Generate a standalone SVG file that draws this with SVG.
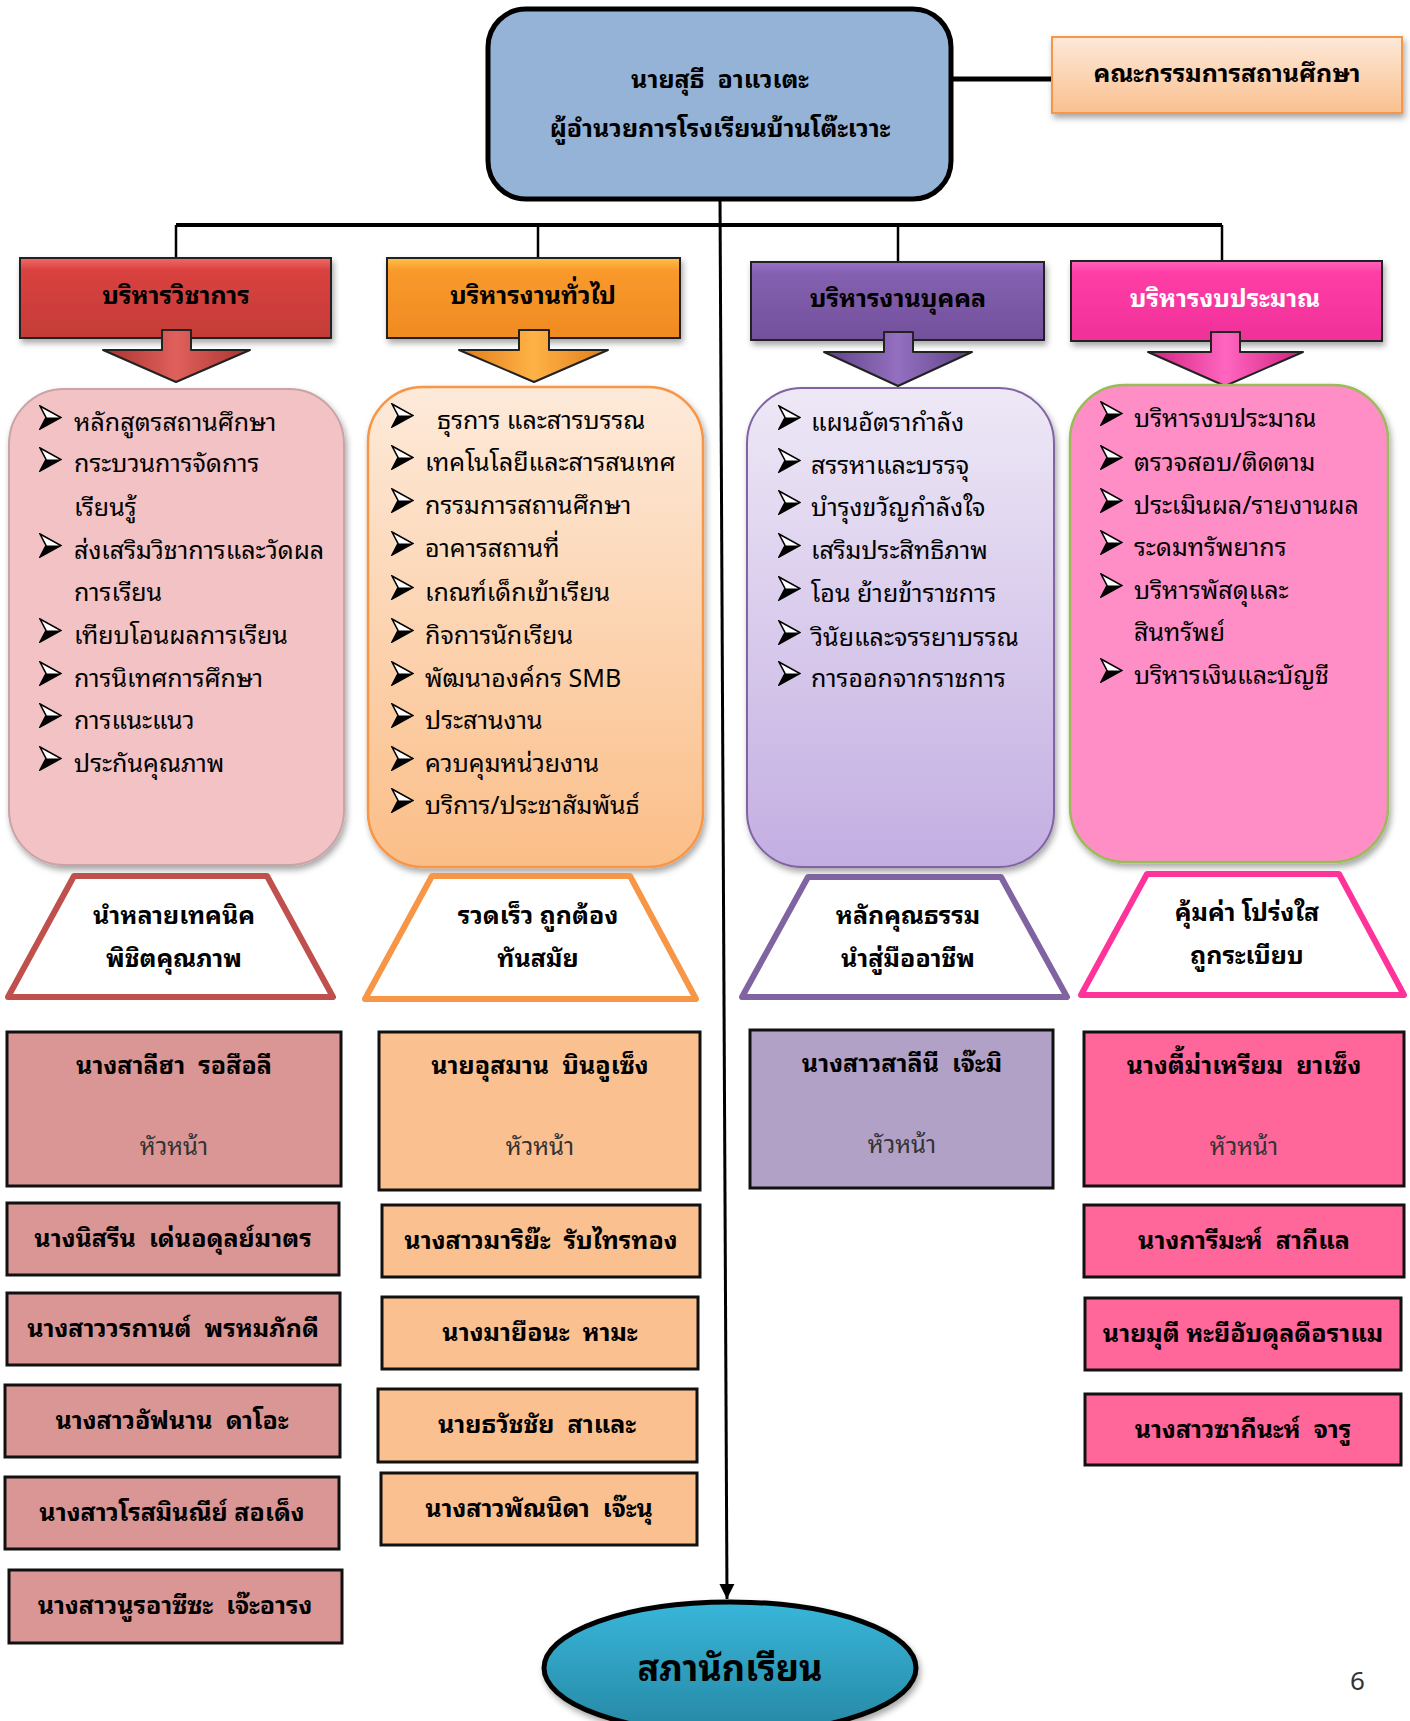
<svg xmlns="http://www.w3.org/2000/svg" width="1410" height="1721" viewBox="0 0 1410 1721">
<style>
.t{font-family:"Noto Sans Thai Looped","Sarabun","TH Sarabun New","Noto Sans Thai","Loma","Garuda","Noto Sans","DejaVu Sans",sans-serif;fill:#000;white-space:pre}
.c{text-anchor:middle}
.item{font-size:25px}
.title{font-size:25px;font-weight:bold}
.name{font-size:25px;font-weight:bold}
.head{font-size:24px;fill:#333}
.hdr{font-size:25px;font-weight:bold}
.trap{fill:#fff;stroke-width:6;stroke-linejoin:round}
.mbox{stroke:#111;stroke-width:3}
.line{stroke:#000;fill:none}
</style>
<defs>
<filter id="sh" x="-10%" y="-10%" width="125%" height="130%">
<feDropShadow dx="2" dy="4" stdDeviation="3" flood-color="#000" flood-opacity="0.35"/>
</filter>
<symbol id="bul" viewBox="0 0 23 25">
<path d="M1,1 L22,12.5 L1,24 L7,12.5 Z" fill="#fff" stroke="#000" stroke-width="1.6" stroke-linejoin="miter"/>
<path d="M7,12.5 L22,12.5 L1,24 Z" fill="#000"/>
</symbol>
<linearGradient id="gCom" x1="0" y1="0" x2="0" y2="1"><stop offset="0" stop-color="#FDE9D9"/><stop offset="1" stop-color="#FAC08F"/></linearGradient>
<linearGradient id="gRed" x1="0" y1="0" x2="0" y2="1"><stop offset="0" stop-color="#F06A67"/><stop offset="0.15" stop-color="#D9423F"/><stop offset="1" stop-color="#C43B38"/></linearGradient>
<linearGradient id="gOra" x1="0" y1="0" x2="0" y2="1"><stop offset="0" stop-color="#FFC04A"/><stop offset="0.15" stop-color="#F99A2C"/><stop offset="1" stop-color="#F08A22"/></linearGradient>
<linearGradient id="gPur" x1="0" y1="0" x2="0" y2="1"><stop offset="0" stop-color="#9A72C8"/><stop offset="0.15" stop-color="#8461B0"/><stop offset="1" stop-color="#72509C"/></linearGradient>
<linearGradient id="gPnk" x1="0" y1="0" x2="0" y2="1"><stop offset="0" stop-color="#FF66BB"/><stop offset="0.15" stop-color="#FF3DA5"/><stop offset="1" stop-color="#F0309A"/></linearGradient>
<linearGradient id="gAR" x1="0" y1="0" x2="1" y2="0"><stop offset="0" stop-color="#A83230"/><stop offset="0.5" stop-color="#E0605C"/><stop offset="1" stop-color="#A83230"/></linearGradient>
<linearGradient id="gAO" x1="0" y1="0" x2="1" y2="0"><stop offset="0" stop-color="#E07A18"/><stop offset="0.5" stop-color="#FFB347"/><stop offset="1" stop-color="#E07A18"/></linearGradient>
<linearGradient id="gAP" x1="0" y1="0" x2="1" y2="0"><stop offset="0" stop-color="#5E4288"/><stop offset="0.5" stop-color="#9470C0"/><stop offset="1" stop-color="#5E4288"/></linearGradient>
<linearGradient id="gAK" x1="0" y1="0" x2="1" y2="0"><stop offset="0" stop-color="#D0207F"/><stop offset="0.5" stop-color="#FF66C0"/><stop offset="1" stop-color="#D0207F"/></linearGradient>
<linearGradient id="gCO" x1="0" y1="0" x2="0" y2="1"><stop offset="0" stop-color="#FDEADA"/><stop offset="1" stop-color="#FBBE88"/></linearGradient>
<linearGradient id="gCP" x1="0" y1="0" x2="0" y2="1"><stop offset="0" stop-color="#EEE8F6"/><stop offset="1" stop-color="#C3AEE2"/></linearGradient>
<linearGradient id="gEl" x1="0" y1="0" x2="0" y2="1"><stop offset="0" stop-color="#38B6DA"/><stop offset="1" stop-color="#2687A3"/></linearGradient>
<marker id="arr" viewBox="0 0 10 10" refX="10" refY="5" markerWidth="5" markerHeight="6" orient="auto" markerUnits="strokeWidth">
<path d="M0,0 L10,5 L0,10 Z" fill="#000"/>
</marker>
</defs>

<g id="connectors">
<line class="line" x1="951" y1="79" x2="1052" y2="79" stroke-width="5"/>
<line class="line" x1="176" y1="225" x2="1222" y2="225" stroke-width="4"/>
<line class="line" x1="176" y1="225" x2="176" y2="268" stroke-width="2.5"/>
<line class="line" x1="538" y1="225" x2="538" y2="270" stroke-width="2.5"/>
<line class="line" x1="898" y1="225" x2="898" y2="270" stroke-width="2.5"/>
<line class="line" x1="1222" y1="225" x2="1222" y2="270" stroke-width="2.5"/>
</g>

<g id="director">
<rect x="488" y="9" width="463" height="190" rx="38" fill="#95B3D7" stroke="#000" stroke-width="5"/>
<text class="t title c" x="720" y="88">นายสุธี  อาแวเตะ</text>
<text class="t title c" x="720" y="137">ผู้อำนวยการโรงเรียนบ้านโต๊ะเวาะ</text>
</g>

<g id="committee">
<rect x="1052" y="37" width="350" height="76" fill="url(#gCom)" stroke="#F79646" stroke-width="2" filter="url(#sh)"/>
<text class="t title c" x="1227" y="82">คณะกรรมการสถานศึกษา</text>
</g>

<g id="dept-academic">
<rect x="20" y="258" width="311" height="80" fill="url(#gRed)" stroke="#222" stroke-width="2" filter="url(#sh)"/>
<text class="t hdr c" x="176" y="304">บริหารวิชาการ</text>
<path d="M162,330 L191,330 L191,350 L250,350 L176,382 L103,350 L162,350 Z" fill="url(#gAR)" stroke="#222" stroke-width="2" stroke-linejoin="round"/>
</g>
<g id="dept-general">
<rect x="387" y="258" width="293" height="80" fill="url(#gOra)" stroke="#222" stroke-width="2" filter="url(#sh)"/>
<text class="t hdr c" x="533" y="304">บริหารงานทั่วไป</text>
<path d="M519,330 L549,330 L549,350 L608,350 L534,382 L459,350 L519,350 Z" fill="url(#gAO)" stroke="#222" stroke-width="2" stroke-linejoin="round"/>
</g>
<g id="dept-personnel">
<rect x="751" y="262" width="293" height="78" fill="url(#gPur)" stroke="#222" stroke-width="2" filter="url(#sh)"/>
<text class="t hdr c" x="898" y="307">บริหารงานบุคคล</text>
<path d="M884,332 L913,332 L913,352 L972,352 L898,386 L824,352 L884,352 Z" fill="url(#gAP)" stroke="#222" stroke-width="2" stroke-linejoin="round"/>
</g>
<g id="dept-budget">
<rect x="1071" y="261" width="311" height="80" fill="url(#gPnk)" stroke="#222" stroke-width="2" filter="url(#sh)"/>
<text class="t hdr c" x="1225" y="307" style="fill:#fff">บริหารงบประมาณ</text>
<path d="M1211,332 L1240,332 L1240,352 L1303,352 L1225,386 L1148,352 L1211,352 Z" fill="url(#gAK)" stroke="#222" stroke-width="2" stroke-linejoin="round"/>
</g>

<g id="tasks-academic">
<rect x="9" y="389" width="335" height="476" rx="55" fill="#F2C2C4" stroke="#C9A3A5" stroke-width="2" filter="url(#sh)"/>
<use href="#bul" x="39" y="405" width="23" height="25"/>
<text class="t item" x="74" y="431">หลักสูตรสถานศึกษา</text>
<use href="#bul" x="39" y="447" width="23" height="25"/>
<text class="t item" x="74" y="472">กระบวนการจัดการ</text>
<text class="t item" x="74" y="516">เรียนรู้</text>
<use href="#bul" x="39" y="533" width="23" height="25"/>
<text class="t item" x="74" y="559">ส่งเสริมวิชาการและวัดผล</text>
<text class="t item" x="74" y="601">การเรียน</text>
<use href="#bul" x="39" y="618" width="23" height="25"/>
<text class="t item" x="74" y="644">เทียบโอนผลการเรียน</text>
<use href="#bul" x="39" y="661" width="23" height="25"/>
<text class="t item" x="74" y="687">การนิเทศการศึกษา</text>
<use href="#bul" x="39" y="703" width="23" height="25"/>
<text class="t item" x="74" y="729">การแนะแนว</text>
<use href="#bul" x="39" y="746" width="23" height="25"/>
<text class="t item" x="74" y="772">ประกันคุณภาพ</text>
</g>

<g id="tasks-general">
<rect x="368" y="387" width="335" height="480" rx="55" fill="url(#gCO)" stroke="#F79646" stroke-width="2.5" filter="url(#sh)"/>
<use href="#bul" x="391" y="403" width="23" height="25"/>
<text class="t item" x="437" y="429">ธุรการ และสารบรรณ</text>
<use href="#bul" x="391" y="445" width="23" height="25"/>
<text class="t item" x="425" y="471">เทคโนโลยีและสารสนเทศ</text>
<use href="#bul" x="391" y="488" width="23" height="25"/>
<text class="t item" x="425" y="514">กรรมการสถานศึกษา</text>
<use href="#bul" x="391" y="531" width="23" height="25"/>
<text class="t item" x="425" y="557">อาคารสถานที่</text>
<use href="#bul" x="391" y="575" width="23" height="25"/>
<text class="t item" x="425" y="601">เกณฑ์เด็กเข้าเรียน</text>
<use href="#bul" x="391" y="618" width="23" height="25"/>
<text class="t item" x="425" y="644">กิจการนักเรียน</text>
<use href="#bul" x="391" y="661" width="23" height="25"/>
<text class="t item" x="425" y="687">พัฒนาองค์กร SMB</text>
<use href="#bul" x="391" y="703" width="23" height="25"/>
<text class="t item" x="425" y="729">ประสานงาน</text>
<use href="#bul" x="391" y="746" width="23" height="25"/>
<text class="t item" x="425" y="772">ควบคุมหน่วยงาน</text>
<use href="#bul" x="391" y="788" width="23" height="25"/>
<text class="t item" x="425" y="814">บริการ/ประชาสัมพันธ์</text>
</g>

<g id="tasks-personnel">
<rect x="747" y="388" width="307" height="479" rx="55" fill="url(#gCP)" stroke="#8064A2" stroke-width="2" filter="url(#sh)"/>
<use href="#bul" x="778" y="405" width="23" height="25"/>
<text class="t item" x="811" y="431">แผนอัตรากำลัง</text>
<use href="#bul" x="778" y="448" width="23" height="25"/>
<text class="t item" x="811" y="474">สรรหาและบรรจุ</text>
<use href="#bul" x="778" y="490" width="23" height="25"/>
<text class="t item" x="811" y="516">บำรุงขวัญกำลังใจ</text>
<use href="#bul" x="778" y="533" width="23" height="25"/>
<text class="t item" x="811" y="559">เสริมประสิทธิภาพ</text>
<use href="#bul" x="778" y="576" width="23" height="25"/>
<text class="t item" x="811" y="602">โอน ย้ายข้าราชการ</text>
<use href="#bul" x="778" y="620" width="23" height="25"/>
<text class="t item" x="811" y="646">วินัยและจรรยาบรรณ</text>
<use href="#bul" x="778" y="661" width="23" height="25"/>
<text class="t item" x="811" y="687">การออกจากราชการ</text>
</g>

<g id="tasks-budget">
<rect x="1070" y="385" width="318" height="477" rx="55" fill="#FF8EC6" stroke="#9BBB59" stroke-width="2.5" filter="url(#sh)"/>
<use href="#bul" x="1100" y="401" width="23" height="25"/>
<text class="t item" x="1134" y="427">บริหารงบประมาณ</text>
<use href="#bul" x="1100" y="445" width="23" height="25"/>
<text class="t item" x="1134" y="471">ตรวจสอบ/ติดตาม</text>
<use href="#bul" x="1100" y="488" width="23" height="25"/>
<text class="t item" x="1134" y="514">ประเมินผล/รายงานผล</text>
<use href="#bul" x="1100" y="530" width="23" height="25"/>
<text class="t item" x="1134" y="556">ระดมทรัพยากร</text>
<use href="#bul" x="1100" y="573" width="23" height="25"/>
<text class="t item" x="1134" y="599">บริหารพัสดุและ</text>
<text class="t item" x="1134" y="641">สินทรัพย์</text>
<use href="#bul" x="1100" y="658" width="23" height="25"/>
<text class="t item" x="1134" y="684">บริหารเงินและบัญชี</text>
</g>

<g id="motto-academic">
<polygon class="trap" points="74,876 267,876 333,997 8,997" stroke="#C0504D"/>
<text class="t name c" x="174" y="924">นำหลายเทคนิค</text>
<text class="t name c" x="174" y="967">พิชิตคุณภาพ</text>
</g>
<g id="motto-general">
<polygon class="trap" points="432,876 630,876 696,999 365,999" stroke="#F79646"/>
<text class="t name c" x="538" y="924">รวดเร็ว ถูกต้อง</text>
<text class="t name c" x="538" y="967">ทันสมัย</text>
</g>
<g id="motto-personnel">
<polygon class="trap" points="808,877 1001,877 1067,997 742,997" stroke="#8064A2"/>
<text class="t name c" x="908" y="924">หลักคุณธรรม</text>
<text class="t name c" x="908" y="967">นำสู่มืออาชีพ</text>
</g>
<g id="motto-budget">
<polygon class="trap" points="1147,874 1339,874 1404,995 1081,995" stroke="#FF3399"/>
<text class="t name c" x="1247" y="921">คุ้มค่า โปร่งใส</text>
<text class="t name c" x="1247" y="964">ถูกระเบียบ</text>
</g>

<g id="head-academic">
<rect class="mbox" x="7" y="1032" width="334" height="154" fill="#D99694"/>
<text class="t name c" x="174" y="1074">นางสาลีฮา  รอสือลี</text>
<text class="t head c" x="174" y="1155">หัวหน้า</text>
</g>
<g id="head-general">
<rect class="mbox" x="379" y="1032" width="321" height="158" fill="#FAC090"/>
<text class="t name c" x="540" y="1074">นายอุสมาน  บินอูเซ็ง</text>
<text class="t head c" x="540" y="1155">หัวหน้า</text>
</g>
<g id="head-personnel">
<rect class="mbox" x="750" y="1030" width="303" height="158" fill="#B2A1C7"/>
<text class="t name c" x="902" y="1072">นางสาวสาลีนี  เจ๊ะมิ</text>
<text class="t head c" x="902" y="1153">หัวหน้า</text>
</g>
<g id="head-budget">
<rect class="mbox" x="1084" y="1032" width="320" height="154" fill="#FF6699"/>
<text class="t name c" x="1244" y="1074">นางตี้ม่าเหรียม  ยาเซ็ง</text>
<text class="t head c" x="1244" y="1155">หัวหน้า</text>
</g>

<g id="member-a1"><rect class="mbox" x="7" y="1203" width="332" height="72" fill="#D99694"/><text class="t name c" x="173" y="1247">นางนิสรีน  เด่นอดุลย์มาตร</text></g>
<g id="member-a2"><rect class="mbox" x="7" y="1293" width="333" height="72" fill="#D99694"/><text class="t name c" x="173" y="1337">นางสาววรกานต์  พรหมภักดี</text></g>
<g id="member-a3"><rect class="mbox" x="5" y="1385" width="335" height="72" fill="#D99694"/><text class="t name c" x="172" y="1429">นางสาวอัฟนาน  ดาโอะ</text></g>
<g id="member-a4"><rect class="mbox" x="5" y="1477" width="334" height="72" fill="#D99694"/><text class="t name c" x="172" y="1521">นางสาวโรสมินณีย์ สอเด็ง</text></g>
<g id="member-a5"><rect class="mbox" x="9" y="1570" width="333" height="73" fill="#D99694"/><text class="t name c" x="175" y="1614">นางสาวนูรอาซีซะ  เจ๊ะอารง</text></g>

<g id="member-g1"><rect class="mbox" x="382" y="1205" width="318" height="72" fill="#FAC090"/><text class="t name c" x="541" y="1249">นางสาวมาริย๊ะ  รับไทรทอง</text></g>
<g id="member-g2"><rect class="mbox" x="382" y="1297" width="316" height="72" fill="#FAC090"/><text class="t name c" x="540" y="1341">นางมายือนะ  หามะ</text></g>
<g id="member-g3"><rect class="mbox" x="378" y="1389" width="319" height="73" fill="#FAC090"/><text class="t name c" x="537" y="1433">นายธวัชชัย  สาและ</text></g>
<g id="member-g4"><rect class="mbox" x="381" y="1473" width="316" height="72" fill="#FAC090"/><text class="t name c" x="539" y="1517">นางสาวพัณนิดา  เจ๊ะนุ</text></g>

<g id="member-b1"><rect class="mbox" x="1084" y="1205" width="320" height="72" fill="#FF6699"/><text class="t name c" x="1244" y="1249">นางการีมะห์  สากีแล</text></g>
<g id="member-b2"><rect class="mbox" x="1085" y="1298" width="316" height="72" fill="#FF6699"/><text class="t name c" x="1243" y="1342">นายมุตี หะยีอับดุลดือราแม</text></g>
<g id="member-b3"><rect class="mbox" x="1085" y="1394" width="316" height="71" fill="#FF6699"/><text class="t name c" x="1243" y="1438">นางสาวซากีนะห์  จารู</text></g>

<g id="connector-main">
<line class="line" x1="720" y1="197" x2="727" y2="1599" stroke-width="3" marker-end="url(#arr)"/>
</g>

<g id="student-council">
<ellipse cx="730" cy="1668" rx="186" ry="66" fill="url(#gEl)" stroke="#000" stroke-width="5" filter="url(#sh)"/>
<text class="t c" x="730" y="1681" style="font-size:36px;font-weight:bold">สภานักเรียน</text>
</g>

<text class="t" x="1350" y="1690" style="font-size:26px;fill:#333">6</text>
</svg>
